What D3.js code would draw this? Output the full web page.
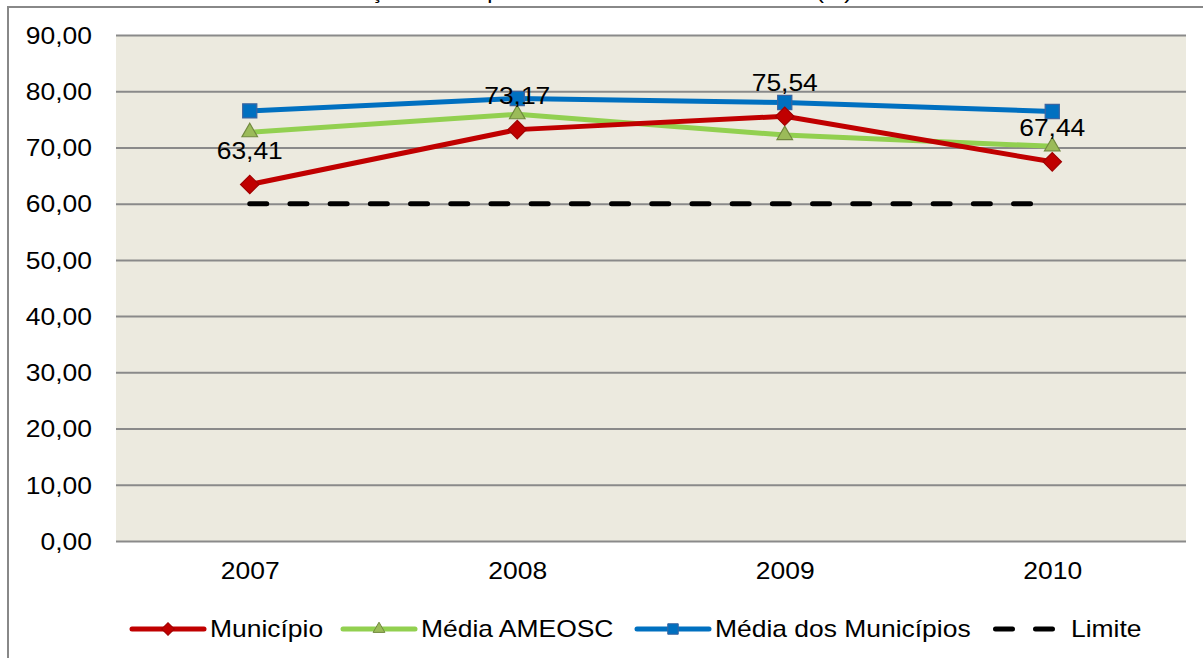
<!DOCTYPE html>
<html>
<head>
<meta charset="utf-8">
<script src="https://cdn.jsdelivr.net/npm/d3@7"></script>
<style>
  html, body { margin: 0; padding: 0; background: #ffffff; }
  svg { display: block; }
  text { font-family: "Liberation Sans", Arial, sans-serif; fill: #000; }
</style>
</head>
<body>
<svg id="chart" width="1203" height="658"></svg>
<script>
// Personnel spending share (%), 2007–2010
const years = ["2007", "2008", "2009", "2010"];
const municipio = [63.41, 73.17, 75.54, 67.44];
const mediaAmeosc = [72.7, 75.9, 72.2, 70.2];
const mediaMunicipios = [76.5, 78.7, 78.0, 76.4];
const limite = [60, 60, 60, 60];
const yTicks = [0, 10, 20, 30, 40, 50, 60, 70, 80, 90];
const seriesNames = ["Município", "Média AMEOSC", "Média dos Municípios", "Limite"];
const titleText = "Evolução da Despesa com Pessoal sobre a RCL (%)";

const W = 1203, H = 658;
const plot = { left: 116, right: 1186, top: 35, bottom: 541 };
const FONT = 23, SX = 1.15;  // label size and horizontal stretch

const svg = d3.select("#chart");
const fmt = v => d3.format(".2f")(v).replace(".", ",");

// chart frame
svg.append("rect")
  .attr("x", 8).attr("y", 7).attr("width", W + 20).attr("height", H + 20)
  .attr("fill", "#fff").attr("stroke", "#888").attr("stroke-width", 2);

// title (sits above the frame)
svg.append("text")
  .attr("transform", `translate(852,-1) scale(${SX},1)`)
  .attr("text-anchor", "end")
  .attr("font-size", 20)
  .text(titleText);

// plot background
svg.append("rect")
  .attr("x", plot.left).attr("y", plot.top)
  .attr("width", plot.right - plot.left).attr("height", plot.bottom - plot.top)
  .attr("fill", "#ECEADF");

const x = d3.scalePoint().domain(years).range([plot.left, plot.right]).padding(0.5);
const y = d3.scaleLinear().domain([0, 90]).range([plot.bottom, plot.top]);

// y axis with gridlines
const yAxis = svg.append("g")
  .attr("transform", `translate(${plot.left},0)`)
  .call(d3.axisLeft(y).tickValues(yTicks).tickFormat(fmt)
    .tickSize(-(plot.right - plot.left)).tickPadding(0));
yAxis.select(".domain").remove();
yAxis.selectAll(".tick line").attr("stroke", "#8a8a8a").attr("stroke-width", 2);
yAxis.selectAll(".tick text")
  .attr("font-size", FONT).attr("font-family", "Liberation Sans, Arial, sans-serif")
  .attr("fill", "#000")
  .attr("x", -24 / SX).attr("dy", "0.36em")
  .attr("transform", `scale(${SX},1)`);

// x axis labels
const xAxis = svg.append("g")
  .attr("transform", `translate(0,${plot.bottom})`)
  .call(d3.axisBottom(x).tickSize(0).tickPadding(0));
xAxis.select(".domain").remove();
xAxis.selectAll(".tick text")
  .attr("font-size", FONT).attr("font-family", "Liberation Sans, Arial, sans-serif")
  .attr("fill", "#000")
  .attr("y", 0).attr("dy", "1.65em")
  .attr("transform", `scale(${SX},1)`);

const line = d3.line().x((d, i) => x(years[i])).y(d => y(d));

const styles = {
  red:   { stroke: "#C00000", fill: "#C00000", mstroke: "#A00000" },
  green: { stroke: "#92D050", fill: "#9BBB59", mstroke: "#71893F" },
  blue:  { stroke: "#0070C0", fill: "#0070C0", mstroke: "#3A64A0" }
};

// limit line (dashed)
svg.append("path")
  .datum(limite)
  .attr("d", line)
  .attr("fill", "none").attr("stroke", "#000").attr("stroke-width", 5)
  .attr("stroke-linecap", "round").attr("stroke-dasharray", "17,23.2");

function drawSeries(values, st, symbol, size, rotate) {
  svg.append("path").datum(values).attr("d", line)
    .attr("fill", "none").attr("stroke", st.stroke).attr("stroke-width", 5)
    .attr("stroke-linejoin", "round");
  svg.append("g").selectAll("path").data(values).join("path")
    .attr("d", d3.symbol().type(symbol).size(size))
    .attr("transform", (d, i) => `translate(${x(years[i])},${y(d)}) rotate(${rotate})`)
    .attr("fill", st.fill).attr("stroke", st.mstroke).attr("stroke-width", 1.2);
}

drawSeries(mediaMunicipios, styles.blue, d3.symbolSquare, 200, 0);
drawSeries(mediaAmeosc, styles.green, d3.symbolTriangle, 105, 0);
drawSeries(municipio, styles.red, d3.symbolSquare, 170, 45);

// data labels for Município
svg.append("g").selectAll("text").data(municipio).join("text")
  .attr("transform", (d, i) => `translate(${x(years[i])},${y(d) - 34}) scale(${SX},1)`)
  .attr("text-anchor", "middle").attr("dy", "0.36em")
  .attr("font-size", FONT)
  .text(d => fmt(d));

// legend
const legendY = 629;
const legendItems = [
  { name: seriesNames[0], x0: 132, st: styles.red, symbol: d3.symbolSquare, size: 80, rotate: 45 },
  { name: seriesNames[1], x0: 343, st: styles.green, symbol: d3.symbolTriangle, size: 60, rotate: 0 },
  { name: seriesNames[2], x0: 637, st: styles.blue, symbol: d3.symbolSquare, size: 110, rotate: 0 },
  { name: seriesNames[3], x0: 993, st: null }
];
const lg = svg.append("g");
legendItems.forEach(it => {
  if (it.st) {
    lg.append("line").attr("x1", it.x0).attr("x2", it.x0 + 72)
      .attr("y1", legendY).attr("y2", legendY)
      .attr("stroke", it.st.stroke).attr("stroke-width", 5).attr("stroke-linecap", "round");
    lg.append("path").attr("d", d3.symbol().type(it.symbol).size(it.size))
      .attr("transform", `translate(${it.x0 + 36},${legendY}) rotate(${it.rotate})`)
      .attr("fill", it.st.fill).attr("stroke", it.st.mstroke).attr("stroke-width", 1);
  } else {
    lg.append("line").attr("x1", it.x0 + 2.5).attr("x2", it.x0 + 70)
      .attr("y1", legendY).attr("y2", legendY)
      .attr("stroke", "#000").attr("stroke-width", 5).attr("stroke-linecap", "round")
      .attr("stroke-dasharray", "17,23");
  }
  lg.append("text")
    .attr("transform", `translate(${it.x0 + 78},${legendY}) scale(${SX},1)`)
    .attr("dy", "0.36em").attr("font-size", FONT).text(it.name);
});
</script>
</body>
</html>
